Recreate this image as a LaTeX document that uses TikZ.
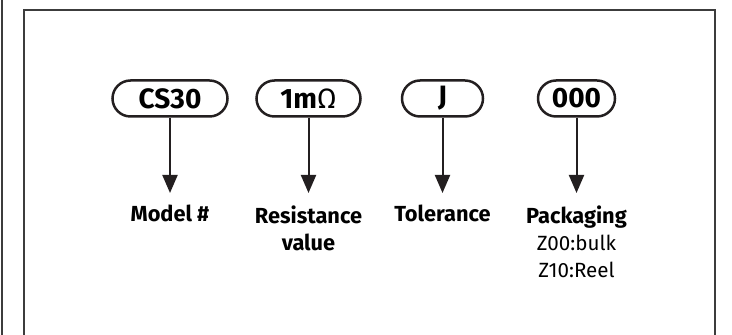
\documentclass[tikz,border=0pt]{standalone}
\usepackage{fontspec}
\setmainfont{Fira Sans}
\usetikzlibrary{arrows.meta}
\definecolor{ink}{RGB}{35,31,32}
\definecolor{edge}{RGB}{60,60,60}
\tikzset{
  pill/.style={draw=ink, line width=1.25pt, rounded corners=9pt, minimum height=18pt,
    inner sep=0pt, font=\bfseries\fontsize{14}{16}\selectfont},
  lbl/.style={anchor=north, inner xsep=0pt, inner ysep=6pt, align=center,
    font=\bfseries\fontsize{10.9}{13.5}\selectfont},
  arr/.style={draw=ink, line width=1pt, -{Triangle[length=9pt,width=7.5pt]}}
}
\newcommand{\subline}[1]{{\mdseries\fontsize{10.3}{12.5}\selectfont #1}}
\begin{document}
\begin{tikzpicture}[x=0.5pt,y=-0.5pt]
\useasboundingbox (0,0) rectangle (732,335);
% frame
\draw[edge, line width=1pt] (1.5,0)--(1.5,335);
\draw[edge, line width=1.25pt] (24,335)--(24,10)--(715,10)--(715,335);
% code fields
\node[pill, minimum width=57.5pt] (cs) at (170,98.5) {CS30};
\node[pill, minimum width=52pt] (res) at (308.5,98.5) {1m\mdseries Ω};
\node[pill, minimum width=40.5pt] (tol) at (442.5,98.5) {J};
\node[pill, minimum width=38.5pt] (pkg) at (576.5,98.5) {000};
% meanings
\node[lbl] (model) at (170,193) {Model \#};
\node[lbl] (value) at (308.5,193) {Resistance\\value};
\node[lbl] (tolerance) at (442.5,193) {Tolerance};
\node[lbl] (packaging) at (576.5,193) {Packaging\\\subline{Z00:bulk}\\\subline{Z10:Reel}};
\draw[arr] (cs)--(model);
\draw[arr] (res)--(value);
\draw[arr] (tol)--(tolerance);
\draw[arr] (pkg)--(packaging);
\end{tikzpicture}
\end{document}
